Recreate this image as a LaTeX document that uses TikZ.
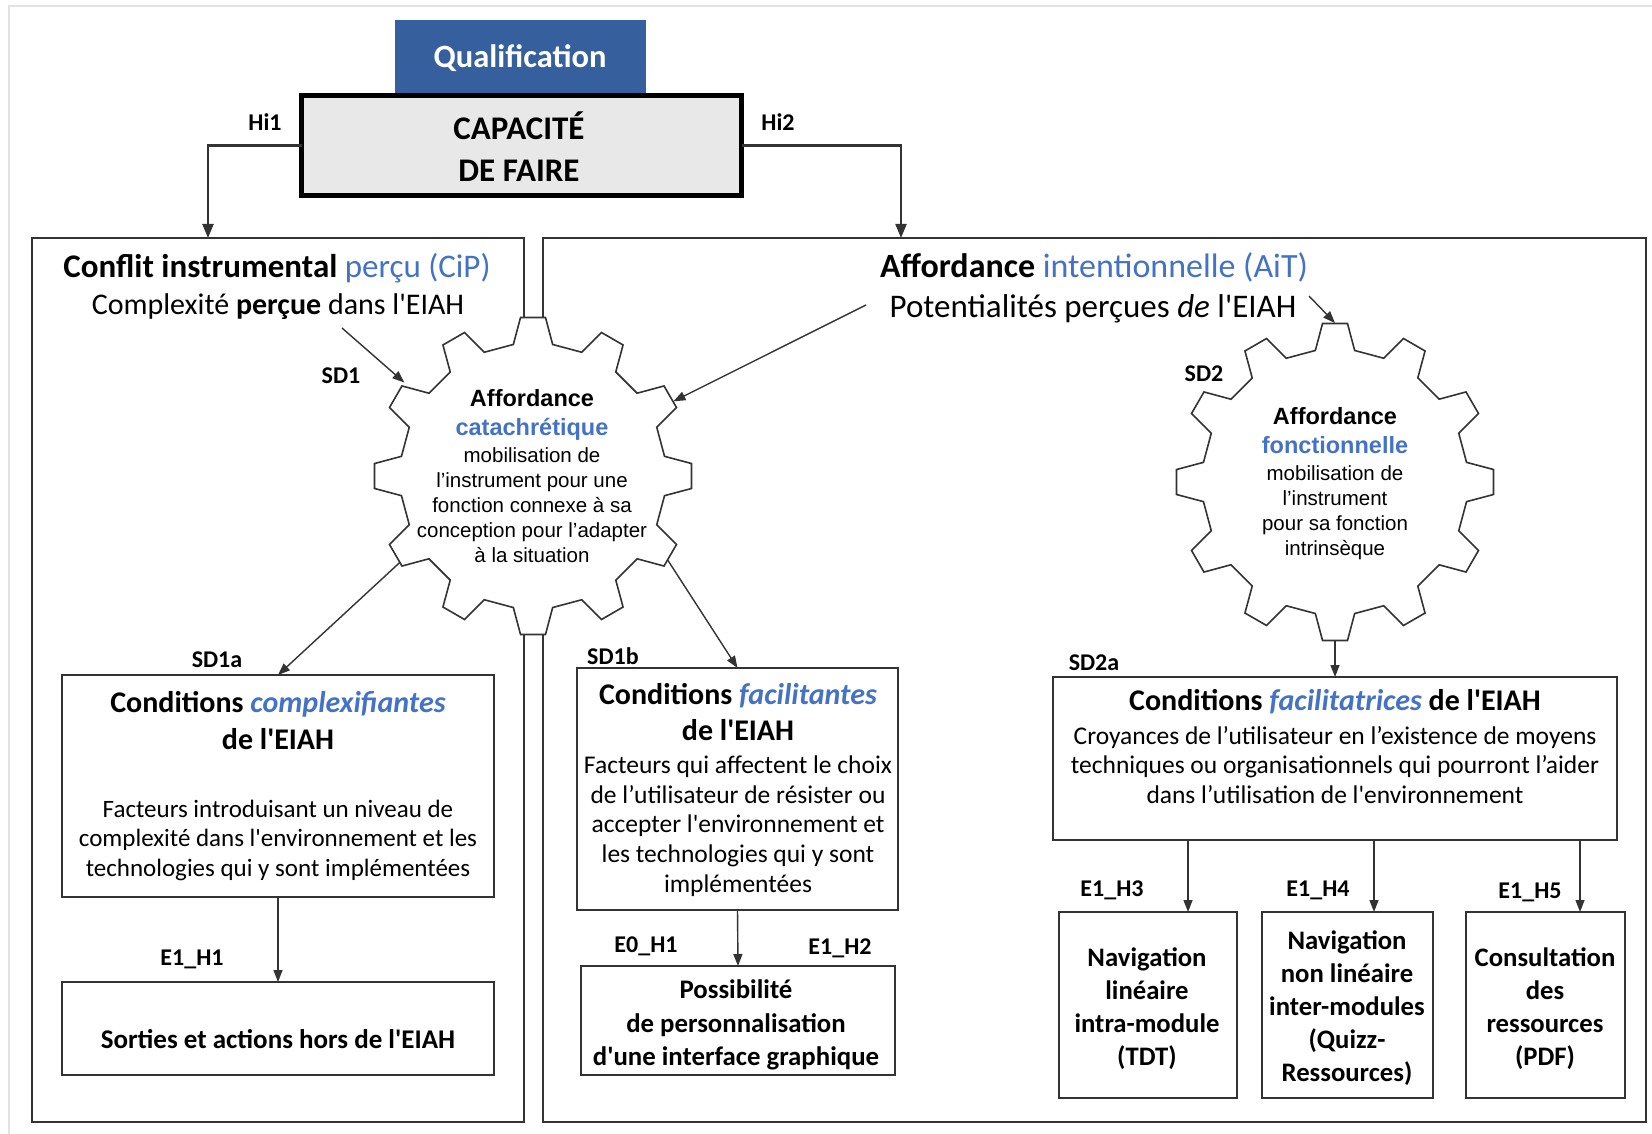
\documentclass[tikz,border=0pt]{standalone}
\usepackage{fontspec}
\setmainfont{Carlito}
\newfontfamily\arialf{Liberation Sans}
\usetikzlibrary{arrows.meta,calc}
\definecolor{blu}{RGB}{68,114,196}
\definecolor{qblue}{RGB}{54,95,158}
\definecolor{capfill}{RGB}{232,232,232}
\definecolor{linec}{RGB}{51,51,51}
\definecolor{framec}{RGB}{226,226,226}
\newcommand\fs[2]{\fontsize{#1}{#2}\selectfont}
\newcommand\sq{\textquotesingle}
\newcommand\geardraw[1]{%
  \draw[gearst] ($(#1)+(81.5:133pt)$)
    \foreach \a in {90,120,...,420}{
      -- ($(#1)+(\a-8.5:133pt)$) -- ($(#1)+(\a-4.5:159pt)$)
      -- ($(#1)+(\a+4.5:159pt)$) -- ($(#1)+(\a+8.5:133pt)$)
    } -- cycle;
}
\begin{document}
\begin{tikzpicture}[x=1pt,y=-1pt,
  bx/.style={draw=linec, line width=1.8pt, rectangle, inner sep=0pt, outer sep=0pt, fill=white},
  arr/.style={draw=linec, line width=1.4pt, -{Triangle[length=12pt,width=9pt]}},
  harr/.style={draw=linec, line width=2.2pt, -{Triangle[length=14pt,width=11pt]}},
  lbl/.style={font=\bfseries\fs{24}{27}, inner sep=0pt},
  txt/.style={align=center, inner sep=0pt},
  gearst/.style={draw=linec, line width=1.6pt, fill=white, line join=miter},
  gnode/.style={circle, minimum size=318pt, inner sep=0pt, outer sep=0pt},
]
\useasboundingbox (0,0) rectangle (1652,1134);
% frame
\draw[framec, line width=2pt] (9,1134) -- (9,6) -- (1652,6);

% big boxes
\node[bx, minimum width=492pt, minimum height=884pt] (lbox) at (278,680) {};
\node[bx, minimum width=1103pt, minimum height=884pt] (rbox) at (1094.5,680) {};

% qualification & capacity
\node[rectangle, fill=qblue, minimum width=251pt, minimum height=74pt, inner sep=0pt] (qual) at (520.5,57) {};
\node[txt, text=white, font=\bfseries\fs{32.5}{36}] (qualt) at (520,58) {Qualification};
\node[rectangle, draw=black, line width=5.5pt, fill=capfill, minimum width=440pt, minimum height=100pt, inner sep=0pt, outer sep=0pt] (cap) at (521.5,145.5) {};
\node[txt, font=\bfseries\fs{33}{42}] (capt) at (519,147) {CAPACITÉ\\DE FAIRE};
\node[lbl] (hi1) at (265,122) {Hi1};
\node[lbl] (hi2) at (778,122) {Hi2};
\coordinate (h1) at (208,238);
\coordinate (h2) at (901,238);
\draw[harr] (cap.west) -| (h1);
\draw[harr] (cap.east) -| (h2);

% titles
\node[txt, font=\fs{33}{36}] (tl) at (277,268) {\textbf{Conflit instrumental} \textcolor{blu}{perçu (CiP)}};
\node[txt, font=\fs{30}{34}] (sl) at (278,307) {Complexité \textbf{perçue} dans l\sq EIAH};
\node[txt, font=\fs{34}{36}] (tr) at (1094,267) {\textbf{Affordance} \textcolor{blu}{intentionnelle (AiT)}};
\node[txt, font=\fs{33}{36}] (sr) at (1093,309) {Potentialités perçues \textit{de} l\sq EIAH};

% gears
\node[gnode] (g1) at (533,476) {};
\node[gnode] (g2) at (1335,482) {};
\geardraw{g1}
\geardraw{g2}
\node[txt, font=\arialf\bfseries\fs{23.5}{29}] (g1t) at (532,414.5) {Affordance\\\textcolor{blu}{catachrétique}};
\node[txt, font=\arialf\fs{20.5}{25}] (g1b) at (532,505) {mobilisation de\\l’instrument pour une\\fonction connexe à sa\\conception pour l’adapter\\à la situation};
\node[txt, font=\arialf\bfseries\fs{23.5}{29}] (g2t) at (1335,431) {Affordance\\\textcolor{blu}{fonctionnelle}};
\node[txt, font=\arialf\fs{20.5}{25}] (g2b) at (1335,513) {mobilisation de\\l’instrument\\pour sa fonction\\intrinsèque};
\node[lbl] (sd1) at (341,376) {SD1};
\node[lbl] (sd2) at (1204,374) {SD2};

% left column
\node[bx, minimum width=432pt, minimum height=222pt] (sd1a) at (278,786) {};
\node[txt, font=\bfseries\fs{30}{37}] (sd1ah) at (278,721) {Conditions \textcolor{blu}{\textit{complexifiantes}}\\de l\sq EIAH};
\node[txt, font=\fs{25}{29.5}] (sd1ab) at (278,840) {Facteurs introduisant un niveau de\\complexité dans l\sq environnement et les\\technologies qui y sont implémentées};
\node[lbl] (sd1al) at (217,660) {SD1a};
\node[bx, minimum width=432pt, minimum height=93pt] (out1) at (278,1028.5) {};
\node[txt, font=\bfseries\fs{27}{33}] (out1t) at (278,1039) {Sorties et actions hors de l\sq EIAH};
\node[lbl] (e1h1) at (192,959) {E1\_H1};

% middle column
\node[bx, minimum width=321pt, minimum height=242pt] (sd1b) at (737.5,789) {};
\node[txt, font=\bfseries\fs{30}{36}] (sd1bh) at (738,712) {Conditions \textcolor{blu}{\textit{facilitantes}}\\de l\sq EIAH};
\node[txt, font=\fs{25.5}{29.7}] (sd1bb) at (738,826) {Facteurs qui affectent le choix\\de l’utilisateur de résister ou\\accepter l\sq environnement et\\les technologies qui y sont\\implémentées};
\node[lbl] (sd1bl) at (613,656) {SD1b};
\node[bx, minimum width=314pt, minimum height=109pt] (poss) at (738,1020.5) {};
\node[txt, font=\bfseries\fs{26.8}{33.5}] (posst) at (736,1025) {Possibilité\\de personnalisation\\d\sq une interface graphique};
\node[lbl] (e0h1) at (646,946) {E0\_H1};
\node[lbl] (e1h2) at (840,948) {E1\_H2};

% right column
\node[bx, minimum width=564pt, minimum height=163pt] (sd2a) at (1335,758.5) {};
\node[txt, font=\bfseries\fs{30}{36}] (sd2ah) at (1335,702) {Conditions \textcolor{blu}{\textit{facilitatrices}} de l\sq EIAH};
\node[txt, font=\fs{25.5}{29.5}] (sd2ab) at (1335,765) {Croyances de l’utilisateur en l’existence de moyens\\techniques ou organisationnels qui pourront l’aider\\dans l’utilisation de l\sq environnement};
\node[lbl] (sd2al) at (1094,663) {SD2a};
\node[bx, minimum width=178pt, minimum height=186pt] (n1) at (1148,1005) {};
\node[bx, minimum width=171pt, minimum height=186pt] (n2) at (1347.5,1005) {};
\node[bx, minimum width=159pt, minimum height=186pt] (n3) at (1545.5,1005) {};
\node[txt, font=\bfseries\fs{26.7}{33}] (n1t) at (1147,1009) {Navigation\\linéaire\\intra-module\\(TDT)};
\node[txt, font=\bfseries\fs{26.7}{33}] (n2t) at (1347,1008) {Navigation\\non linéaire\\inter-modules\\(Quizz-\\Ressources)};
\node[txt, font=\bfseries\fs{26.7}{33}] (n3t) at (1545,1009) {Consultation\\des\\ressources\\(PDF)};
\node[lbl] (e1h3) at (1112,890) {E1\_H3};
\node[lbl] (e1h4) at (1318,890) {E1\_H4};
\node[lbl] (e1h5) at (1530,892) {E1\_H5};
\coordinate (a1) at (1188,912);
\coordinate (a2) at (1374,912);
\coordinate (a3) at (1580,912);

% connectors
\coordinate (c1) at (342,328);
\coordinate (p1) at (866,305);
\coordinate (p2) at (1309,296);
\draw[arr] (c1) -- (g1.144);
\draw[arr] (p1) -- (g1.28);
\draw[arr] (p2) -- (g2.north);
\draw[arr] (g1.213) -- (sd1a.north);
\draw[arr] (g1.-32) -- (sd1b.north);
\draw[arr] (g2.south) -- (sd2a.north);
\draw[arr] (sd1a.south) -- (out1.north);
\draw[arr] (sd1b.south) -- (poss.north);
\draw[arr] (sd2a.south -| a1) -- (a1);
\draw[arr] (sd2a.south -| a2) -- (a2);
\draw[arr] (sd2a.south -| a3) -- (a3);
\end{tikzpicture}
\end{document}
